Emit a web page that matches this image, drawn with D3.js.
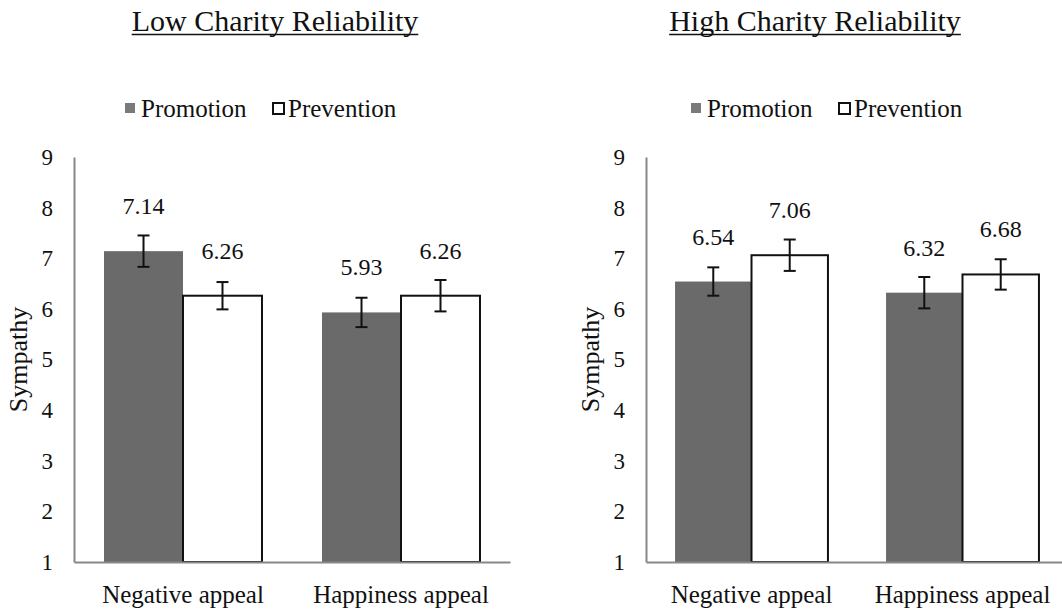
<!DOCTYPE html>
<html>
<head>
<meta charset="utf-8">
<script src="https://cdn.jsdelivr.net/npm/d3@7"></script>
<style>
  body { margin: 0; background: #fff; }
  text { font-family: "Liberation Serif", "Times New Roman", serif; fill: #111; }
</style>
</head>
<body>
<svg id="chart" width="1062" height="609"></svg>
<script>
// data
const categories = ["Negative appeal", "Happiness appeal"];
const series = ["Promotion", "Prevention"];
const yTicks = [1, 2, 3, 4, 5, 6, 7, 8, 9];

const panelTitles = ["Low Charity Reliability", "High Charity Reliability"];
// values[category][series]
const lowValues = [[7.14, 6.26], [5.93, 6.26]];
const lowErrors = [[0.31, 0.27], [0.29, 0.31]];
const highValues = [[6.54, 7.06], [6.32, 6.68]];
const highErrors = [[0.28, 0.31], [0.31, 0.30]];

const panels = [
    {title: panelTitles[0], values: lowValues, errors: lowErrors, x0: 74, w: 436, titleX: 275, legendX: 125},
    {title: panelTitles[1], values: highValues, errors: highErrors, x0: 646, w: 422, titleX: 815, legendX: 691}
];

const fills = {Promotion: "#6a6a6a", Prevention: "#ffffff"};

const svg = d3.select("#chart");

const y = d3.scaleLinear().domain([1, 9]).range([562, 157]);

panels.forEach(p => {
    const g = svg.append("g");

    // title, underlined
    const t = g.append("text")
        .attr("x", p.titleX)
        .attr("y", 31)
        .attr("text-anchor", "middle")
        .attr("font-size", 30)
        .text(p.title);
    const bb = t.node().getBBox();
    g.append("line")
        .attr("x1", bb.x).attr("x2", bb.x + bb.width)
        .attr("y1", 34.5).attr("y2", 34.5)
        .attr("stroke", "#111").attr("stroke-width", 1.5);

    // legend
    const leg = g.append("g").attr("transform", `translate(${p.legendX},0)`);
    leg.append("rect")
        .attr("x", 0).attr("y", 103).attr("width", 10).attr("height", 10)
        .attr("fill", "#7a7a7a");
    leg.append("text")
        .attr("x", 16).attr("y", 117)
        .attr("font-size", 25)
        .text(series[0]);
    leg.append("rect")
        .attr("x", 148).attr("y", 103).attr("width", 11).attr("height", 11)
        .attr("fill", "#fff").attr("stroke", "#111").attr("stroke-width", 2);
    leg.append("text")
        .attr("x", 163).attr("y", 117)
        .attr("font-size", 25)
        .text(series[1]);

    const x = d3.scaleBand().domain(categories).range([p.x0, p.x0 + p.w]);
    const xs = d3.scaleBand().domain(series).range([0, x.bandwidth()]).paddingOuter(0.38);

    const items = [];
    categories.forEach((c, i) => series.forEach((s, j) => {
        items.push({cat: c, ser: s, v: p.values[i][j], e: p.errors[i][j]});
    }));

    const bars = g.append("g").selectAll("g")
        .data(items)
        .join("g")
        .attr("transform", d => `translate(${x(d.cat) + xs(d.ser)},0)`);

    bars.append("rect")
        .attr("y", d => y(d.v))
        .attr("width", xs.bandwidth())
        .attr("height", d => y(1) - y(d.v))
        .attr("fill", d => fills[d.ser])
        .attr("stroke", d => d.ser === "Prevention" ? "#111" : "none")
        .attr("stroke-width", 2);

    // error bars
    const cx = xs.bandwidth() / 2;
    const err = bars.append("g")
        .attr("stroke", "#111")
        .attr("stroke-width", 2);
    err.append("line")
        .attr("x1", cx).attr("x2", cx)
        .attr("y1", d => y(d.v + d.e)).attr("y2", d => y(d.v - d.e));
    err.append("line")
        .attr("x1", cx - 6).attr("x2", cx + 6)
        .attr("y1", d => y(d.v + d.e)).attr("y2", d => y(d.v + d.e));
    err.append("line")
        .attr("x1", cx - 6).attr("x2", cx + 6)
        .attr("y1", d => y(d.v - d.e)).attr("y2", d => y(d.v - d.e));

    bars.append("text")
        .attr("x", cx)
        .attr("y", d => y(d.v) - 37)
        .attr("text-anchor", "middle")
        .attr("font-size", 24)
        .text(d => d.v.toFixed(2));

    // axes
    const yAxis = g.append("g")
        .attr("transform", `translate(${p.x0},0)`)
        .call(d3.axisLeft(y).tickValues(yTicks).tickSize(0).tickPadding(21).tickFormat(d3.format("d")));
    yAxis.select(".domain").attr("stroke", "#888").attr("stroke-width", 2);
    yAxis.selectAll("text")
        .attr("font-size", 23)
        .attr("fill", "#111");

    const xAxis = g.append("g")
        .attr("transform", `translate(0,${y(1)})`)
        .call(d3.axisBottom(x).tickSize(0).tickPadding(23));
    xAxis.select(".domain").attr("stroke", "#888").attr("stroke-width", 2);
    xAxis.selectAll("text")
        .attr("font-size", 25)
        .attr("fill", "#111");

    g.append("text")
        .attr("transform", `translate(${p.x0 - 47},${(y(1) + y(9)) / 2}) rotate(-90)`)
        .attr("text-anchor", "middle")
        .attr("font-size", 26)
        .text("Sympathy");
});
</script>
</body>
</html>
